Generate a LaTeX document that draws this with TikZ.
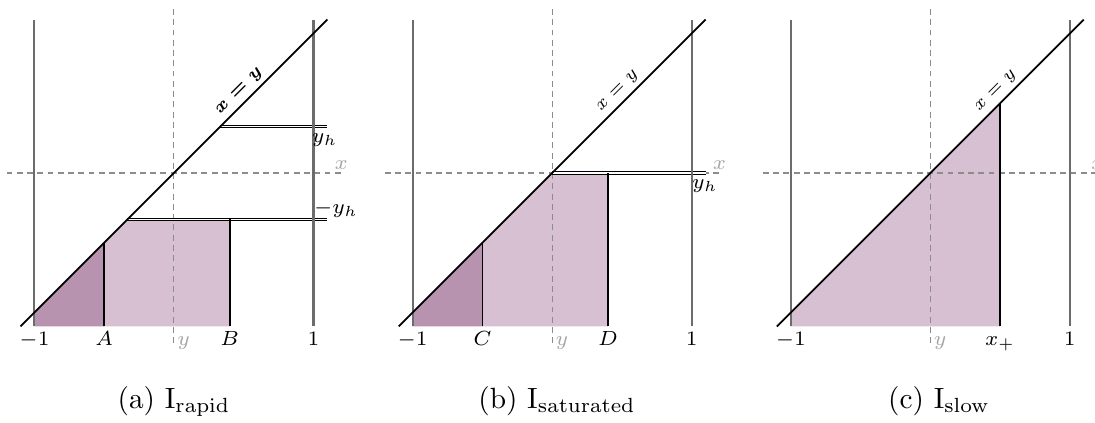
\documentclass[tikz,border=0pt]{standalone}
\usepackage{amsmath}
\usetikzlibrary{positioning}
\definecolor{lightfill}{RGB}{214,192,210}
\definecolor{darkfill}{RGB}{183,147,175}

\begin{document}
\begin{tikzpicture}[x=1.673cm, y=1.673cm, lbl/.style={font=\fontsize{7}{8.4}\selectfont, inner sep=1pt}, glbl/.style={lbl, text=gray!70}, eq/.style={font=\fontsize{6}{7.2}\selectfont, inner sep=1.5pt, pos=0.74, sloped, above}, guide/.style={gray!90, line width=0.35pt, dash pattern=on 2pt off 1.5pt}, wall/.style={gray!85!black, line width=0.7pt}, diagline/.style={black, line width=0.6pt}, bound/.style={black, line width=0.6pt}, dbl/.style={double, double distance=0.5pt, line width=0.35pt}, caption/.style={font=\normalsize, anchor=base}]
\useasboundingbox (-1.247,-1.792) rectangle (6.602,1.240);
% (a) rapid
\begin{scope}
\fill[lightfill] (-0.5,-1.1) -- (-0.5,-0.5) -- (-1/3,-1/3) -- (0.4,-1/3) -- (0.4,-1.1) -- cycle;
\fill[darkfill] (-1,-1.1) -- (-1,-1) -- (-0.5,-0.5) -- (-0.5,-1.1) -- cycle;
\draw[guide] (-1.2,0) -- (1.2,0) node[glbl, above] (xa) {$x$};
\draw[guide] (0,-1.22) -- (0,1.2);
\draw[dbl] (1/3,1/3) -- (1.1,1/3);
\draw[dbl] (-1/3,-1/3) -- (1.1,-1/3);
\draw[bound] (-0.5,-1.1) -- (-0.5,-0.5);
\draw[bound] (0.4,-1.1) -- (0.4,-1/3);
\draw[wall] (-1,-1.1) -- (-1,1.1);
\draw[wall] (1,-1.1) -- (1,1.1);
\draw[diagline] (-1.1,-1.1) -- (1.1,1.1) node[eq] (eqa) {$\boldsymbol{x=y}$};
\node[lbl, anchor=north] (yha) at (1.08,0.31) {$y_h$};
\node[lbl, anchor=west, inner sep=0pt] (myha) at (1,-0.26) {$-y_h$};
\node[lbl, anchor=base] (m1a) at (-1,-1.235) {$-1$};
\node[lbl, anchor=base] (A) at (-0.5,-1.235) {$A$};
\node[glbl, anchor=base west] (ya) at (0,-1.235) {$y$};
\node[lbl, anchor=base] (B) at (0.4,-1.235) {$B$};
\node[lbl, anchor=base] (p1a) at (1,-1.235) {$1$};
\end{scope}
% (b) saturated
\begin{scope}[shift={(2.711,0)}]
\fill[lightfill] (-0.5,-1.1) -- (-0.5,-0.5) -- (0,0) -- (0.4,0) -- (0.4,-1.1) -- cycle;
\fill[darkfill] (-1,-1.1) -- (-1,-1) -- (-0.5,-0.5) -- (-0.5,-1.1) -- cycle;
\draw[guide] (-1.2,0) -- (1.2,0) node[glbl, above] (xb) {$x$};
\draw[guide] (0,-1.22) -- (0,1.2);
\draw[dbl] (0,0) -- (1.1,0);
\draw[bound] (-0.5,-1.1) -- (-0.5,-0.5);
\draw[bound] (0.4,-1.1) -- (0.4,0);
\draw[wall] (-1,-1.1) -- (-1,1.1);
\draw[wall] (1,-1.1) -- (1,1.1);
\draw[diagline] (-1.1,-1.1) -- (1.1,1.1) node[eq] (eqb) {$x=y$};
\node[lbl, anchor=north] (yhb) at (1.095,-0.02) {$y_h$};
\node[lbl, anchor=base] (m1b) at (-1,-1.235) {$-1$};
\node[lbl, anchor=base] (C) at (-0.5,-1.235) {$C$};
\node[glbl, anchor=base west] (yb) at (0,-1.235) {$y$};
\node[lbl, anchor=base] (D) at (0.4,-1.235) {$D$};
\node[lbl, anchor=base] (p1b) at (1,-1.235) {$1$};
\end{scope}
% (c) slow
\begin{scope}[shift={(5.4215,0)}]
\fill[lightfill] (-1,-1.1) -- (-1,-1) -- (0.5,0.5) -- (0.5,-1.1) -- cycle;
\draw[guide] (-1.2,0) -- (1.2,0) node[glbl, above] (xc) {$x$};
\draw[guide] (0,-1.22) -- (0,1.2);
\draw[bound] (0.5,-1.1) -- (0.5,0.5);
\draw[wall] (-1,-1.1) -- (-1,1.1);
\draw[wall] (1,-1.1) -- (1,1.1);
\draw[diagline] (-1.1,-1.1) -- (1.1,1.1) node[eq] (eqc) {$x=y$};
\node[lbl, anchor=base] (m1c) at (-1,-1.235) {$-1$};
\node[glbl, anchor=base west] (yc) at (0,-1.235) {$y$};
\node[lbl, anchor=base] (xp) at (0.5,-1.235) {$x_+$};
\node[lbl, anchor=base] (p1c) at (1,-1.235) {$1$};
\end{scope}
% captions
\node[caption] (capa) at (0,-1.685) {(a) $\mathrm{I}_{\mathrm{rapid}}$};
\node[caption] (capb) at (2.746,-1.685) {(b) $\mathrm{I}_{\mathrm{saturated}}$};
\node[caption] (capc) at (5.484,-1.685) {(c) $\mathrm{I}_{\mathrm{slow}}$};
\end{tikzpicture}
\end{document}
